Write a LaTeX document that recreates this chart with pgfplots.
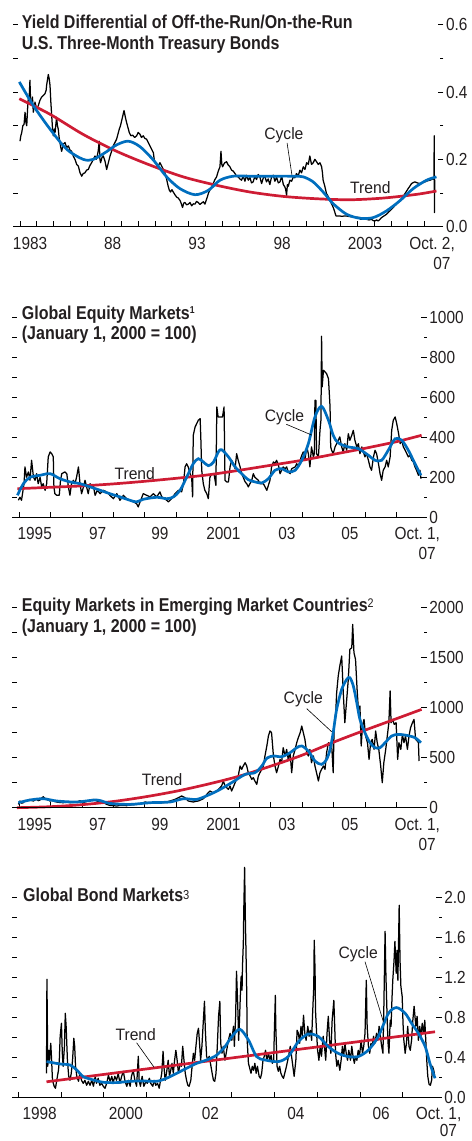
\documentclass[border=0pt]{standalone}
\usepackage{fontspec}
\setmainfont{Liberation Sans}
\newfontfamily\tickfont{Liberation Sans}[FakeStretch=0.88]
\newfontfamily\titlefont{Liberation Sans}[FakeStretch=0.86]
\newfontfamily\annfont{Liberation Sans}[FakeStretch=0.95]
\usepackage{pgfplots}
\pgfplotsset{compat=1.18}
\definecolor{cyc}{RGB}{0,110,190}
\definecolor{trd}{RGB}{206,28,52}
\definecolor{txt}{RGB}{35,31,32}
\newcommand{\tfs}{\tickfont\fontsize{17.5bp}{20bp}\selectfont}
\newcommand{\ttl}{\titlefont\bfseries\fontsize{18.6bp}{21bp}\selectfont}
\newcommand{\ann}{\annfont\fontsize{16.5bp}{18bp}\selectfont}
\tikzset{
  xl/.style={anchor=north, inner sep=0pt, font=\tfs, text=txt, yshift=-10bp},
  lead/.style={black, line width=0.6bp},
  an/.style={anchor=base, inner sep=0pt, font=\ann, text=txt},
}
\pgfplotsset{
  panel/.style={
    scale only axis, anchor=south west, clip=false,
    x coord trafo/.code={\pgfmathparse{##1-1980}},
    axis line style={draw=none},
    tick align=inside,
    xtick pos=bottom, ytick pos=right,
    major tick length=5.5bp, minor tick length=3bp,
    tick style={black, line width=0.75bp},
    tick label style={font=\tfs, text=txt},
    yticklabel style={anchor=west, inner sep=0pt, xshift=2.5bp},
    xticklabels={},
  },
  blk/.style={black, line width=1.25bp, line join=round},
  cy/.style={cyc, line width=2.7bp, smooth},
  tr/.style={trd, line width=2.7bp, smooth},
}
\begin{document}
\begin{tikzpicture}
\path[use as bounding box] (0bp,0bp) rectangle (472bp,1141bp);

% ---------------- Panel 1 ----------------
\begin{axis}[panel, at={(13bp,914.3bp)}, width=430.3bp, height=202bp,
  xmin=1982.585, xmax=2008.107, ymin=0, ymax=0.6,
  xtick={1983,1984,...,2007},
  ytick={0,0.2,0.4,0.6}, yticklabels={0.0,0.2,0.4,0.6},
  minor ytick={0.1,0.3,0.5}]
\addplot[blk] table[header=false] {
1983.00 0.254
1983.05 0.270
1983.10 0.279
1983.17 0.300
1983.24 0.304
1983.30 0.340
1983.35 0.310
1983.40 0.300
1983.45 0.350
1983.49 0.380
1983.55 0.390
1983.59 0.435
1983.63 0.370
1983.69 0.360
1983.74 0.385
1983.79 0.340
1983.84 0.355
1983.89 0.370
1983.99 0.350
1984.09 0.360
1984.18 0.375
1984.28 0.385
1984.38 0.390
1984.48 0.395
1984.55 0.405
1984.58 0.420
1984.64 0.440
1984.68 0.452
1984.73 0.440
1984.78 0.420
1984.83 0.370
1984.88 0.330
1984.93 0.290
1984.98 0.270
1985.03 0.290
1985.08 0.280
1985.12 0.300
1985.17 0.325
1985.22 0.300
1985.27 0.290
1985.32 0.265
1985.37 0.250
1985.42 0.235
1985.47 0.224
1985.57 0.245
1985.67 0.250
1985.77 0.235
1985.87 0.240
1985.96 0.228
1986.06 0.224
1986.16 0.210
1986.26 0.200
1986.36 0.185
1986.46 0.180
1986.56 0.160
1986.66 0.150
1986.75 0.158
1986.85 0.160
1986.95 0.168
1987.05 0.170
1987.15 0.182
1987.25 0.190
1987.35 0.200
1987.45 0.210
1987.52 0.200
1987.58 0.210
1987.64 0.225
1987.70 0.254
1987.74 0.200
1987.78 0.190
1987.86 0.205
1987.94 0.210
1988.04 0.195
1988.14 0.170
1988.24 0.190
1988.34 0.210
1988.44 0.225
1988.53 0.240
1988.63 0.250
1988.73 0.260
1988.81 0.275
1988.89 0.290
1988.96 0.300
1989.03 0.315
1989.10 0.330
1989.17 0.345
1989.25 0.325
1989.32 0.310
1989.40 0.295
1989.48 0.280
1989.58 0.270
1989.68 0.272
1989.80 0.265
1989.92 0.270
1990.01 0.280
1990.11 0.275
1990.21 0.265
1990.31 0.270
1990.41 0.262
1990.51 0.260
1990.61 0.250
1990.71 0.240
1990.81 0.230
1990.91 0.220
1990.96 0.200
1991.00 0.190
1991.10 0.185
1991.20 0.180
1991.30 0.190
1991.40 0.180
1991.50 0.170
1991.60 0.160
1991.70 0.140
1991.79 0.120
1991.86 0.108
1991.93 0.103
1992.01 0.110
1992.09 0.103
1992.19 0.095
1992.29 0.088
1992.39 0.085
1992.49 0.078
1992.57 0.068
1992.64 0.057
1992.71 0.070
1992.78 0.072
1992.88 0.065
1992.98 0.067
1993.08 0.072
1993.18 0.062
1993.28 0.068
1993.38 0.067
1993.47 0.075
1993.57 0.072
1993.67 0.066
1993.77 0.070
1993.87 0.074
1993.97 0.067
1994.04 0.078
1994.11 0.088
1994.18 0.100
1994.26 0.108
1994.36 0.118
1994.46 0.128
1994.56 0.140
1994.66 0.148
1994.76 0.165
1994.86 0.178
1994.92 0.224
1994.97 0.185
1995.02 0.178
1995.08 0.185
1995.15 0.190
1995.25 0.193
1995.35 0.183
1995.45 0.178
1995.55 0.168
1995.65 0.165
1995.75 0.158
1995.85 0.150
1995.94 0.148
1996.04 0.142
1996.14 0.138
1996.24 0.150
1996.34 0.135
1996.44 0.153
1996.54 0.138
1996.64 0.146
1996.73 0.130
1996.83 0.133
1996.93 0.150
1997.03 0.140
1997.13 0.155
1997.23 0.148
1997.33 0.128
1997.43 0.145
1997.52 0.150
1997.62 0.133
1997.72 0.142
1997.82 0.125
1997.92 0.148
1998.02 0.153
1998.12 0.135
1998.22 0.147
1998.32 0.130
1998.42 0.133
1998.52 0.150
1998.62 0.125
1998.71 0.118
1998.76 0.110
1998.81 0.093
1998.86 0.125
1998.91 0.120
1999.01 0.138
1999.11 0.135
1999.21 0.148
1999.30 0.145
1999.40 0.158
1999.50 0.150
1999.60 0.168
1999.70 0.160
1999.80 0.178
1999.90 0.170
2000.00 0.190
2000.10 0.185
2000.19 0.210
2000.29 0.185
2000.39 0.190
2000.49 0.200
2000.59 0.193
2000.69 0.185
2000.79 0.190
2000.89 0.178
2000.94 0.160
2000.98 0.138
2001.08 0.120
2001.18 0.098
2001.28 0.090
2001.38 0.078
2001.48 0.068
2001.58 0.057
2001.66 0.045
2001.74 0.032
2001.87 0.032
2002.10 0.031
2002.30 0.032
2002.57 0.030
2002.80 0.029
2003.00 0.028
2003.16 0.027
2003.20 0.022
2003.55 0.022
2003.70 0.020
2003.85 0.022
2003.95 0.018
2004.05 0.017
2004.15 0.020
2004.25 0.017
2004.35 0.022
2004.44 0.027
2004.59 0.032
2004.74 0.037
2004.89 0.045
2005.04 0.052
2005.19 0.060
2005.33 0.067
2005.48 0.075
2005.63 0.083
2005.73 0.090
2005.83 0.098
2005.92 0.105
2006.02 0.113
2006.12 0.120
2006.22 0.128
2006.32 0.131
2006.42 0.133
2006.57 0.130
2006.72 0.128
2006.87 0.131
2007.01 0.133
2007.16 0.136
2007.31 0.138
2007.41 0.140
2007.51 0.143
2007.55 0.140
2007.57 0.270
2007.58 0.042
2007.60 0.140
};
\addplot[tr] coordinates {(1982.96,0.380) (1984.78,0.334) (1986.75,0.274) (1988.73,0.224) (1990.71,0.183) (1992.68,0.148) (1994.66,0.123) (1996.64,0.103) (1998.61,0.090) (2000.59,0.083) (2002.57,0.080) (2004.54,0.085) (2006.52,0.096) (2007.70,0.106)};
\addplot[cy] coordinates {(1982.96,0.430) (1983.79,0.360) (1984.78,0.290) (1985.77,0.230) (1986.75,0.200) (1987.35,0.200) (1988.14,0.223) (1988.73,0.243) (1989.42,0.254) (1990.11,0.238) (1990.91,0.198) (1991.70,0.148) (1992.49,0.113) (1993.38,0.095) (1994.17,0.108) (1994.86,0.138) (1995.65,0.150) (1996.64,0.150) (1997.62,0.150) (1999.21,0.150) (1999.80,0.148) (2000.39,0.133) (2000.98,0.103) (2001.58,0.068) (2002.37,0.037) (2003.16,0.025) (2003.95,0.027) (2004.74,0.047) (2005.53,0.077) (2006.32,0.113) (2007.11,0.138) (2007.70,0.148)};
\draw[black, line width=0.8bp] (rel axis cs:0,0) -- (rel axis cs:1,0);
\pgfplotsinvokeforeach{0.1,0.2,0.3,0.4,0.5,0.6}{\draw[black, line width=0.75bp] (axis cs:1982.585,#1) -- ++(4.7bp,0pt);}
\node[xl] at (axis cs:1983.6,0) {1983};
\node[xl] at (axis cs:1988.5,0) {88};
\node[xl] at (axis cs:1993.5,0) {93};
\node[xl] at (axis cs:1998.55,0) {98};
\node[xl] at (axis cs:2003.46,0) {2003};
\node[xl, anchor=north east, align=right] at (axis cs:2008.8,0) {Oct.\ 2,\\07\hphantom{,}};
\node[an] at (axis cs:1998.65,0.259) {Cycle};
\node[an] at (axis cs:2003.78,0.098) {Trend};
\draw[lead] (axis cs:1998.84,0.249) -- (axis cs:1999.13,0.153);
\end{axis}
\node[anchor=base west, inner sep=0pt, font=\ttl, text=txt] at (21.7bp,1112.7bp) {Yield Differential of Off-the-Run/On-the-Run};
\node[anchor=base west, inner sep=0pt, font=\ttl, text=txt] at (21.7bp,1091bp) {U.S. Three-Month Treasury Bonds};

% ---------------- Panel 2 ----------------
\begin{axis}[panel, at={(12.3bp,623.7bp)}, width=414.4bp, height=200bp,
  xmin=1994.787, xmax=2007.963, ymin=0, ymax=1000,
  xtick={1995,1996,...,2007},
  ytick={0,200,400,600,800,1000}, yticklabels={0,200,400,600,800,1000},
  minor ytick={100,300,500,700,900}]
\addplot[blk] table[header=false] {
1994.98 85
1995.03 100
1995.08 85
1995.16 168
1995.19 252
1995.24 200
1995.30 227
1995.35 185
1995.40 285
1995.46 200
1995.51 185
1995.56 218
1995.61 168
1995.67 200
1995.72 152
1995.77 168
1995.83 135
1995.88 168
1995.93 302
1995.99 327
1996.04 318
1996.09 302
1996.11 152
1996.14 118
1996.20 110
1996.28 110
1996.32 185
1996.36 218
1996.46 227
1996.52 218
1996.57 152
1996.62 110
1996.67 168
1996.73 185
1996.78 168
1996.83 200
1996.89 252
1996.94 168
1996.99 118
1997.05 152
1997.10 185
1997.15 152
1997.20 118
1997.26 168
1997.31 152
1997.36 160
1997.42 110
1997.49 135
1997.58 118
1997.68 135
1997.79 127
1997.89 110
1998.00 93
1998.11 118
1998.21 85
1998.32 110
1998.42 93
1998.53 85
1998.64 77
1998.74 68
1998.79 52
1998.85 77
1998.95 118
1999.06 110
1999.17 102
1999.27 118
1999.38 102
1999.48 127
1999.54 102
1999.64 93
1999.75 77
1999.85 93
1999.96 118
2000.07 135
2000.17 127
2000.23 168
2000.28 252
2000.33 268
2000.38 252
2000.44 218
2000.49 200
2000.52 102
2000.54 410
2000.60 452
2000.65 468
2000.70 485
2000.76 493
2000.78 402
2000.81 235
2000.86 168
2000.91 135
2000.97 118
2001.02 93
2001.07 200
2001.13 218
2001.20 218
2001.26 160
2001.29 552
2001.33 502
2001.40 502
2001.47 502
2001.52 552
2001.55 185
2001.60 177
2001.66 177
2001.71 252
2001.76 285
2001.82 268
2001.87 243
2001.92 318
2001.97 285
2002.03 252
2002.08 218
2002.13 200
2002.19 177
2002.24 168
2002.29 152
2002.40 185
2002.45 218
2002.50 200
2002.61 185
2002.66 168
2002.77 168
2002.88 135
2002.93 160
2002.98 185
2003.03 252
2003.09 277
2003.14 268
2003.19 285
2003.25 260
2003.30 218
2003.35 235
2003.40 252
2003.46 243
2003.51 252
2003.56 227
2003.62 218
2003.67 243
2003.78 252
2003.83 268
2003.88 252
2003.94 285
2003.99 310
2004.04 327
2004.09 285
2004.15 352
2004.20 318
2004.25 252
2004.30 352
2004.36 302
2004.39 318
2004.41 585
2004.44 585
2004.46 318
2004.52 302
2004.57 435
2004.60 485
2004.62 905
2004.64 652
2004.68 735
2004.73 727
2004.78 718
2004.84 693
2004.89 552
2004.91 352
2004.94 335
2004.99 318
2005.05 352
2005.10 368
2005.15 385
2005.20 402
2005.26 352
2005.31 327
2005.36 368
2005.42 335
2005.47 418
2005.52 385
2005.58 410
2005.63 435
2005.68 385
2005.74 352
2005.79 368
2005.84 318
2005.90 352
2005.95 327
2006.00 302
2006.05 318
2006.11 285
2006.16 252
2006.21 235
2006.27 302
2006.32 335
2006.37 318
2006.43 268
2006.48 218
2006.53 185
2006.58 235
2006.64 252
2006.69 285
2006.74 252
2006.80 302
2006.85 435
2006.90 485
2006.96 502
2007.01 468
2007.07 418
2007.12 368
2007.17 385
2007.22 352
2007.28 335
2007.33 318
2007.38 302
2007.43 310
2007.49 285
2007.54 277
2007.59 252
2007.64 235
2007.70 210
2007.75 235
2007.78 193
};
\addplot[tr] coordinates {(1994.95,143) (1996,150) (1997,157) (1998,167) (1999,180) (2000,195) (2001,212) (2002,235) (2003,260) (2004,285) (2005,315) (2006,345) (2007,378) (2007.8,410)};
\addplot[cy] coordinates {(1994.95,110) (1995.14,168) (1995.35,200) (1995.67,210) (1995.99,218) (1996.30,193) (1996.62,177) (1996.94,168) (1997.26,152) (1997.58,135) (1997.89,118) (1998.21,102) (1998.53,85) (1998.74,77) (1998.95,90) (1999.38,100) (1999.70,93) (1999.91,102) (2000.12,135) (2000.33,200) (2000.54,268) (2000.70,293) (2000.86,277) (2001.02,258) (2001.18,275) (2001.34,327) (2001.44,338) (2001.66,302) (2001.87,252) (2002.08,218) (2002.29,188) (2002.50,177) (2002.72,172) (2002.93,193) (2003.14,235) (2003.35,243) (2003.56,227) (2003.78,235) (2003.99,285) (2004.20,368) (2004.41,502) (2004.62,555) (2004.84,485) (2004.99,410) (2005.15,372) (2005.47,352) (2005.79,343) (2006.11,310) (2006.32,285) (2006.53,285) (2006.74,335) (2006.96,393) (2007.17,385) (2007.38,335) (2007.59,268) (2007.78,210)};
\draw[black, line width=0.8bp] (rel axis cs:0,0) -- (rel axis cs:1,0);
\pgfplotsinvokeforeach{100,200,300,400,500,600,700,800,900,1000}{\draw[black, line width=0.75bp] (axis cs:1994.787,#1) -- ++(4.7bp,0pt);}
\node[xl] at (axis cs:1995.5,0) {1995};
\node[xl] at (axis cs:1997.5,0) {97};
\node[xl] at (axis cs:1999.48,0) {99};
\node[xl] at (axis cs:2001.5,0) {2001};
\node[xl] at (axis cs:2003.52,0) {03};
\node[xl] at (axis cs:2005.52,0) {05};
\node[xl, anchor=north east, align=right] at (axis cs:2008.39,0) {Oct.\ 1,\\07\hphantom{,}};
\node[an] at (axis cs:2003.44,478) {Cycle};
\node[an] at (axis cs:1998.68,190) {Trend};
\draw[lead] (axis cs:2003.5,465) -- (axis cs:2004.31,411);
\end{axis}
\node[anchor=base west, inner sep=0pt, font=\ttl, text=txt] at (21.7bp,821bp) {Global Equity Markets\raisebox{6.3bp}{\fontsize{10bp}{10bp}\selectfont 1}};
\node[anchor=base west, inner sep=0pt, font=\ttl, text=txt] at (21.7bp,801bp) {(January 1, 2000 = 100)};

% ---------------- Panel 3 ----------------
\begin{axis}[panel, at={(12.3bp,333.3bp)}, width=414.4bp, height=200bp,
  xmin=1994.787, xmax=2007.963, ymin=0, ymax=2000,
  xtick={1995,1996,...,2007},
  ytick={0,500,1000,1500,2000}, yticklabels={0,500,1000,1500,2000},
  minor ytick={250,750,1250,1750}]
\addplot[blk] table[header=false] {
1994.98 33
1995.03 67
1995.08 45
1995.14 50
1995.19 72
1995.24 67
1995.30 78
1995.35 83
1995.40 72
1995.46 67
1995.51 78
1995.56 83
1995.61 70
1995.67 77
1995.72 95
1995.77 110
1995.82 95
1995.88 83
1995.93 75
1995.99 67
1996.04 72
1996.09 67
1996.15 60
1996.20 57
1996.30 52
1996.41 50
1996.52 55
1996.62 50
1996.72 53
1996.83 57
1996.94 70
1997.00 58
1997.05 50
1997.12 60
1997.20 67
1997.28 75
1997.36 83
1997.42 75
1997.47 67
1997.58 57
1997.68 50
1997.79 33
1997.89 23
1998.00 20
1998.11 17
1998.21 22
1998.32 23
1998.42 20
1998.53 27
1998.64 30
1998.74 33
1998.82 38
1998.90 43
1999.01 57
1999.09 52
1999.17 50
1999.27 55
1999.38 57
1999.48 52
1999.59 50
1999.70 58
1999.80 67
1999.88 75
1999.96 83
2000.07 100
2000.17 117
2000.23 108
2000.28 100
2000.38 67
2000.46 62
2000.54 57
2000.62 63
2000.70 67
2000.78 78
2000.86 90
2000.92 110
2000.97 133
2001.07 167
2001.12 158
2001.18 150
2001.23 160
2001.28 167
2001.34 183
2001.39 200
2001.44 217
2001.50 267
2001.55 217
2001.60 200
2001.66 183
2001.71 217
2001.76 167
2001.82 210
2001.87 250
2001.97 317
2002.03 417
2002.08 383
2002.13 417
2002.19 450
2002.24 417
2002.29 350
2002.35 317
2002.40 283
2002.45 300
2002.50 267
2002.56 233
2002.61 317
2002.66 350
2002.72 383
2002.77 417
2002.82 517
2002.88 617
2002.93 717
2002.98 767
2003.03 750
2003.09 517
2003.14 417
2003.19 350
2003.25 417
2003.30 483
2003.35 450
2003.40 600
2003.46 517
2003.51 583
2003.56 483
2003.62 550
2003.67 350
2003.72 517
2003.78 583
2003.83 650
2003.88 700
2003.94 750
2003.99 817
2004.04 750
2004.09 683
2004.15 550
2004.20 517
2004.25 583
2004.30 450
2004.36 517
2004.41 417
2004.46 350
2004.52 267
2004.57 350
2004.62 383
2004.68 417
2004.73 383
2004.78 550
2004.84 650
2004.89 617
2004.94 633
2004.99 350
2005.02 817
2005.07 950
2005.10 1150
2005.15 1317
2005.20 1417
2005.26 1517
2005.31 1150
2005.36 850
2005.42 1083
2005.47 1283
2005.52 1583
2005.58 1600
2005.61 1833
2005.65 1550
2005.70 1483
2005.75 1183
2005.79 983
2005.84 1017
2005.88 617
2005.92 817
2005.97 883
2006.02 717
2006.08 650
2006.13 483
2006.18 650
2006.23 683
2006.29 583
2006.34 767
2006.39 650
2006.44 583
2006.50 417
2006.55 250
2006.60 450
2006.66 583
2006.71 717
2006.76 850
2006.80 1167
2006.83 850
2006.88 883
2006.93 833
2006.99 850
2007.04 483
2007.08 650
2007.14 583
2007.19 733
2007.24 650
2007.29 717
2007.35 583
2007.40 717
2007.45 800
2007.51 850
2007.56 883
2007.61 683
2007.66 667
2007.70 650
2007.72 467
};
\addplot[tr] coordinates {(1994.93,0) (1996,10) (1997,30) (1998,62) (1999,108) (2000,165) (2001,235) (2002,315) (2003,415) (2004,525) (2005,655) (2006,775) (2007,890) (2007.8,983)};
\addplot[cy] coordinates {(1994.98,50) (1995.35,77) (1995.77,90) (1996.20,67) (1996.83,57) (1997.47,77) (1997.89,43) (1998.53,33) (1999.17,50) (1999.80,57) (2000.23,90) (2000.65,83) (2001.07,133) (2001.35,175) (2001.76,250) (2002.19,333) (2002.50,350) (2002.72,417) (2002.88,495) (2003.09,517) (2003.35,510) (2003.62,550) (2003.83,600) (2003.99,617) (2004.20,567) (2004.41,467) (2004.62,433) (2004.78,483) (2004.89,583) (2004.99,750) (2005.10,983) (2005.26,1183) (2005.42,1283) (2005.52,1300) (2005.63,1217) (2005.74,1050) (2005.84,883) (2006.00,750) (2006.16,650) (2006.32,600) (2006.48,600) (2006.64,650) (2006.85,717) (2007.06,733) (2007.33,723) (2007.59,700) (2007.78,650)};
\draw[black, line width=0.8bp] (rel axis cs:0,0) -- (rel axis cs:1,0);
\pgfplotsinvokeforeach{250,500,750,1000,1250,1500,1750,2000}{\draw[black, line width=0.75bp] (axis cs:1994.787,#1) -- ++(4.7bp,0pt);}
\node[xl] at (axis cs:1995.5,0) {1995};
\node[xl] at (axis cs:1997.5,0) {97};
\node[xl] at (axis cs:1999.48,0) {99};
\node[xl] at (axis cs:2001.5,0) {2001};
\node[xl] at (axis cs:2003.52,0) {03};
\node[xl] at (axis cs:2005.52,0) {05};
\node[xl, anchor=north east, align=right] at (axis cs:2008.39,0) {Oct.\ 1,\\07\hphantom{,}};
\node[an] at (axis cs:2004.04,1037) {Cycle};
\node[an] at (axis cs:1999.55,217) {Trend};
\draw[lead] (axis cs:2004.15,990) -- (axis cs:2004.94,760);
\end{axis}
\node[anchor=base west, inner sep=0pt, font=\ttl, text=txt] at (21.7bp,529.3bp) {Equity Markets in Emerging Market Countries\raisebox{4.4bp}{\mdseries\fontsize{12.5bp}{12.5bp}\selectfont 2}};
\node[anchor=base west, inner sep=0pt, font=\ttl, text=txt] at (21.7bp,508.3bp) {(January 1, 2000 = 100)};

% ---------------- Panel 4 ----------------
\begin{axis}[panel, at={(12.3bp,43.7bp)}, width=429.4bp, height=200bp,
  xmin=1997.859, xmax=2007.916, ymin=0, ymax=2.0,
  xtick={1998,1999,...,2007},
  ytick={0,0.4,0.8,1.2,1.6,2.0}, yticklabels={0.0,0.4,0.8,1.2,1.6,2.0},
  minor ytick={0.2,0.6,1.0,1.4,1.8}]
\addplot[blk] table[header=false] {
1998.66 0.24
1998.67 1.18
1998.69 0.31
1998.71 0.47
1998.73 0.37
1998.76 0.54
1998.78 0.37
1998.80 0.17
1998.84 0.11
1998.87 0.09
1998.90 0.17
1998.94 0.27
1998.96 0.37
1998.98 0.61
1999.01 0.74
1999.03 0.44
1999.05 0.31
1999.08 0.51
1999.10 0.84
1999.12 0.71
1999.15 0.37
1999.18 0.21
1999.21 0.17
1999.24 0.24
1999.27 0.37
1999.30 0.59
1999.32 0.51
1999.34 0.31
1999.37 0.21
1999.41 0.16
1999.44 0.24
1999.48 0.17
1999.52 0.14
1999.56 0.17
1999.60 0.12
1999.64 0.16
1999.68 0.12
1999.72 0.17
1999.76 0.11
1999.80 0.21
1999.83 0.14
1999.87 0.19
1999.91 0.12
1999.95 0.14
1999.99 0.11
2000.03 0.09
2000.07 0.14
2000.11 0.22
2000.15 0.16
2000.19 0.21
2000.22 0.14
2000.26 0.21
2000.30 0.17
2000.34 0.24
2000.38 0.14
2000.42 0.21
2000.46 0.26
2000.50 0.16
2000.54 0.11
2000.58 0.17
2000.62 0.11
2000.65 0.21
2000.69 0.27
2000.73 0.17
2000.77 0.11
2000.81 0.41
2000.83 0.17
2000.86 0.11
2000.90 0.21
2000.94 0.11
2000.99 0.16
2001.02 0.14
2001.07 0.19
2001.10 0.14
2001.15 0.11
2001.18 0.17
2001.22 0.12
2001.26 0.14
2001.30 0.09
2001.33 0.17
2001.36 0.24
2001.39 0.46
2001.41 0.31
2001.44 0.17
2001.47 0.24
2001.51 0.37
2001.54 0.21
2001.57 0.27
2001.60 0.34
2001.63 0.24
2001.66 0.37
2001.69 0.47
2001.72 0.37
2001.75 0.24
2001.79 0.34
2001.82 0.31
2001.85 0.51
2001.88 0.37
2001.91 0.24
2001.94 0.17
2001.97 0.12
2002.00 0.11
2002.04 0.17
2002.07 0.31
2002.10 0.44
2002.13 0.37
2002.16 0.51
2002.19 0.64
2002.22 0.69
2002.24 0.57
2002.27 0.37
2002.30 0.51
2002.33 0.74
2002.36 0.96
2002.38 0.67
2002.41 0.41
2002.44 0.37
2002.47 0.41
2002.50 0.34
2002.54 0.24
2002.57 0.17
2002.60 0.16
2002.63 0.24
2002.66 0.51
2002.69 0.81
2002.72 0.96
2002.74 0.54
2002.77 0.44
2002.80 0.51
2002.84 0.37
2002.88 0.47
2002.92 0.57
2002.96 0.64
2003.00 0.57
2003.04 0.71
2003.06 0.51
2003.09 0.81
2003.11 1.26
2003.14 0.91
2003.16 0.57
2003.18 0.77
2003.21 1.14
2003.22 1.21
2003.24 1.07
2003.25 1.31
2003.27 1.54
2003.28 1.86
2003.30 2.30
2003.32 1.71
2003.33 1.51
2003.35 1.04
2003.36 0.57
2003.39 0.34
2003.42 0.29
2003.45 0.24
2003.48 0.31
2003.51 0.27
2003.54 0.34
2003.57 0.24
2003.60 0.31
2003.64 0.21
2003.67 0.19
2003.70 0.24
2003.73 0.37
2003.76 0.41
2003.79 0.47
2003.82 0.37
2003.86 0.44
2003.89 0.37
2003.92 0.42
2003.95 0.34
2003.98 0.37
2004.00 0.71
2004.02 1.02
2004.03 0.71
2004.06 0.31
2004.09 0.26
2004.12 0.31
2004.15 0.24
2004.18 0.21
2004.21 0.19
2004.24 0.24
2004.28 0.31
2004.31 0.37
2004.34 0.44
2004.37 0.51
2004.40 0.41
2004.43 0.31
2004.46 0.21
2004.50 0.37
2004.53 0.67
2004.56 0.64
2004.59 0.54
2004.62 0.71
2004.65 0.61
2004.68 0.82
2004.71 0.64
2004.74 0.57
2004.78 0.71
2004.81 0.61
2004.84 0.67
2004.87 0.57
2004.89 0.81
2004.92 1.11
2004.93 1.57
2004.95 1.27
2004.96 0.87
2004.99 0.61
2005.01 0.47
2005.04 0.37
2005.07 0.51
2005.10 0.41
2005.14 0.61
2005.17 0.51
2005.20 0.37
2005.23 0.64
2005.26 0.81
2005.29 0.57
2005.32 0.44
2005.35 0.77
2005.39 0.97
2005.41 0.71
2005.43 0.44
2005.46 0.31
2005.49 0.37
2005.53 0.27
2005.56 0.37
2005.59 0.51
2005.62 0.41
2005.65 0.54
2005.68 0.44
2005.71 0.37
2005.74 0.47
2005.78 0.37
2005.81 0.51
2005.84 0.41
2005.87 0.34
2005.90 0.41
2005.93 0.37
2005.96 0.47
2005.99 0.41
2006.03 0.57
2006.06 0.44
2006.09 0.51
2006.12 0.64
2006.15 1.17
2006.17 0.71
2006.20 0.51
2006.23 0.44
2006.26 0.54
2006.29 0.51
2006.32 0.61
2006.35 0.54
2006.39 0.64
2006.42 0.57
2006.45 0.71
2006.48 0.61
2006.51 0.51
2006.54 0.44
2006.56 0.87
2006.59 1.66
2006.61 1.21
2006.64 0.77
2006.66 0.54
2006.68 0.44
2006.71 0.77
2006.73 0.71
2006.75 0.97
2006.77 1.17
2006.80 1.37
2006.82 1.56
2006.85 1.24
2006.87 1.47
2006.89 1.17
2006.92 1.92
2006.94 1.37
2006.96 1.11
2006.99 1.01
2007.01 0.74
2007.03 0.57
2007.06 0.44
2007.09 0.54
2007.12 0.71
2007.15 0.51
2007.18 0.47
2007.21 0.57
2007.24 0.77
2007.27 0.91
2007.31 0.71
2007.34 0.81
2007.37 0.57
2007.40 0.71
2007.43 0.61
2007.46 0.74
2007.49 0.64
2007.52 0.77
2007.55 0.51
2007.57 0.34
2007.59 0.21
2007.62 0.13
2007.65 0.12
2007.68 0.17
2007.70 0.31
2007.73 0.27
2007.75 0.22
};
\addplot[trd, line width=2.7bp] coordinates {(1998.66,0.155) (2007.76,0.655)};
\addplot[cy] coordinates {(1998.66,0.357) (1998.98,0.333) (1999.21,0.323) (1999.37,0.273) (1999.52,0.207) (1999.76,0.173) (1999.99,0.150) (2000.30,0.147) (2000.62,0.160) (2000.93,0.163) (2001.24,0.160) (2001.47,0.190) (2001.71,0.240) (2001.94,0.290) (2002.18,0.340) (2002.41,0.373) (2002.64,0.420) (2002.84,0.507) (2003.00,0.607) (2003.19,0.680) (2003.39,0.573) (2003.58,0.407) (2003.78,0.373) (2004.09,0.357) (2004.32,0.407) (2004.56,0.557) (2004.79,0.633) (2005.03,0.607) (2005.26,0.507) (2005.49,0.440) (2005.73,0.407) (2005.96,0.407) (2006.20,0.473) (2006.43,0.607) (2006.67,0.840) (2006.86,0.897) (2007.06,0.840) (2007.21,0.740) (2007.37,0.640) (2007.53,0.507) (2007.64,0.340) (2007.76,0.190)};
\draw[black, line width=0.8bp] (rel axis cs:0,0) -- (rel axis cs:1,0);
\pgfplotsinvokeforeach{0.2,0.4,0.6,0.8,1.0,1.2,1.4,1.6,1.8,2.0}{\draw[black, line width=0.75bp] (axis cs:1997.859,#1) -- ++(4.7bp,0pt);}
\node[xl] at (axis cs:1998.5,0) {1998};
\node[xl] at (axis cs:2000.52,0) {2000};
\node[xl] at (axis cs:2002.5,0) {02};
\node[xl] at (axis cs:2004.5,0) {04};
\node[xl] at (axis cs:2006.5,0) {06};
\node[xl, anchor=north east, align=right, font=\tickfont\fontsize{17.5bp}{17.5bp}\selectfont, yshift=0.5bp] at (axis cs:2008.38,0) {Oct.\ 1,\\07\hphantom{,}};
\node[an] at (axis cs:2005.96,1.39) {Cycle};
\node[an] at (axis cs:2000.75,0.573) {Trend};
\draw[lead] (axis cs:2006.12,1.356) -- (axis cs:2006.55,0.756);
\draw[lead] (axis cs:2000.77,0.546) -- (axis cs:2001.18,0.30);
\end{axis}
\node[anchor=base west, inner sep=0pt, font=\ttl, text=txt] at (23bp,239.3bp) {Global Bond Markets\raisebox{2.4bp}{\mdseries\fontsize{13bp}{13bp}\selectfont 3}};
\end{tikzpicture}
\end{document}
